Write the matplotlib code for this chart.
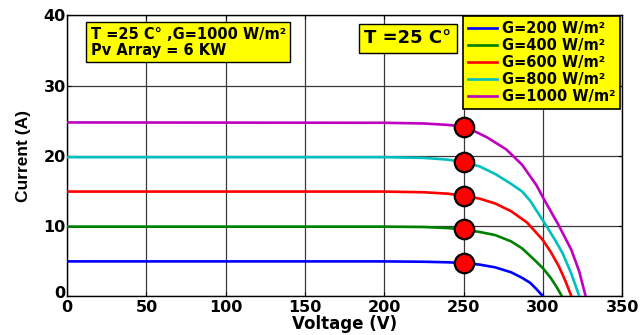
import matplotlib
matplotlib.use("Agg")
import matplotlib.pyplot as plt
from matplotlib.transforms import ScaledTranslation

plt.rcParams['font.family'] = ['DejaVu Sans']
plt.rcParams['font.weight'] = 'bold'

# I-V curves of the PV array at T = 25 °C for several irradiance levels
v_200 = [0, 200, 225, 240, 250, 260, 270, 280, 287, 292, 296, 300]
i_200 = [4.95, 4.95, 4.9, 4.82, 4.72, 4.5, 4.1, 3.4, 2.6, 1.9, 1.0, 0.0]

v_400 = [0, 200, 225, 240, 250, 260, 270, 280, 287, 295, 300, 305, 309, 312]
i_400 = [9.9, 9.9, 9.85, 9.7, 9.5, 9.15, 8.7, 7.8, 6.8, 5.1, 4.0, 2.6, 1.2, 0.0]

v_600 = [0, 200, 225, 240, 250, 260, 270, 280, 290, 300, 305, 310, 314, 318]
i_600 = [14.9, 14.9, 14.8, 14.6, 14.3, 13.9, 13.2, 12.1, 10.5, 8.0, 6.3, 4.3, 2.3, 0.0]

v_800 = [0, 200, 225, 240, 250, 260, 270, 280, 287, 292, 302, 308, 312.5, 318, 323]
i_800 = [19.8, 19.8, 19.7, 19.45, 19.1, 18.5, 17.4, 16.0, 14.9, 13.6, 10.1, 7.9, 6.1, 3.2, 0.0]

v_1000 = [0, 200, 225, 240, 250, 256, 265, 277, 287, 296, 301, 310, 318, 323, 327]
i_1000 = [24.75, 24.7, 24.6, 24.4, 24.15, 23.6, 22.6, 20.9, 18.7, 15.8, 13.7, 10.1, 6.6, 3.5, 0.0]

series_labels = ['G=200 W/m²', 'G=400 W/m²', 'G=600 W/m²', 'G=800 W/m²', 'G=1000 W/m²']
series_colors = ['#0000ff', '#008000', '#ff0000', '#00bfbf', '#bf00bf']

# operating points at V = 250 V
mpp_v = [250, 250, 250, 250, 250]
mpp_i = [4.72, 9.5, 14.3, 19.1, 24.15]

x_ticks = [0, 50, 100, 150, 200, 250, 300, 350]
y_ticks = [0, 10, 20, 30, 40]

fig = plt.figure(figsize=(6.4, 3.35), dpi=100)
ax = fig.add_axes([0.105, 0.116, 0.867, 0.838])

curves = [(v_200, i_200), (v_400, i_400), (v_600, i_600), (v_800, i_800), (v_1000, i_1000)]
for (v, i), lab, col in zip(curves, series_labels, series_colors):
    ax.plot(v, i, color=col, lw=1.9, label=lab, zorder=3, solid_joinstyle='round')

ax.plot(mpp_v, mpp_i, linestyle='none', marker='o', markersize=14,
        markerfacecolor='#ff0000', markeredgecolor='black', markeredgewidth=1.6, zorder=4)

ax.set_xlim(0, 350)
ax.set_ylim(0, 40)
ax.set_xticks(x_ticks)
ax.set_yticks(y_ticks)
ax.grid(True, color='#3a3a3a', lw=0.9)
ax.set_axisbelow(True)
ax.tick_params(direction='in', top=True, right=True, length=3, labelsize=11.5)
ax.tick_params(axis='x', pad=3)
ax.tick_params(axis='y', pad=1)
for lbl in ax.get_xticklabels() + ax.get_yticklabels():
    lbl.set_fontweight('bold')
# lift the y-axis "0" slightly so it clears the x-axis "0"
ylab0 = ax.get_yticklabels()[0]
ylab0.set_transform(ylab0.get_transform() + ScaledTranslation(0, 3 / 72, fig.dpi_scale_trans))
for s in ax.spines.values():
    s.set_linewidth(1.0)

ax.set_xlabel('Voltage (V)', fontsize=12, fontweight='bold', labelpad=0)
ax.set_ylabel('Current (A)', fontsize=12.5, fontweight='bold', labelpad=9,
              family=['Liberation Sans', 'DejaVu Sans'])

leg = ax.legend(loc='upper right', bbox_to_anchor=(0.996, 0.997),
                prop={'weight': 'bold', 'size': 10.5}, frameon=True, fancybox=False,
                handlelength=2.0, handletextpad=0.35, borderpad=0.3, labelspacing=0.15,
                borderaxespad=0.0)
leg.get_frame().set_facecolor('#ffff00')
leg.get_frame().set_edgecolor('black')
leg.get_frame().set_alpha(1)
leg.get_frame().set_linewidth(1.2)

box = dict(boxstyle='square,pad=0.3', facecolor='#ffff00', edgecolor='black', lw=1.0)
ax.text(0.042, 0.96, 'T =25 C° ,G=1000 W/m²\nPv Array = 6 KW', transform=ax.transAxes,
        ha='left', va='top', fontsize=10.5, fontweight='bold', bbox=box, linespacing=1.1)
ax.text(0.535, 0.95, 'T =25 C°', transform=ax.transAxes, ha='left', va='top',
        fontsize=13, fontweight='bold', bbox=box)

fig.savefig('out.png', dpi=100)
